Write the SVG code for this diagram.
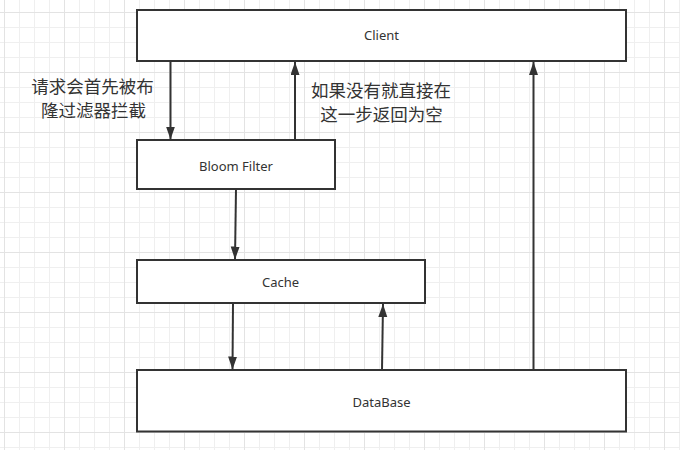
<svg xmlns="http://www.w3.org/2000/svg" width="680" height="450" viewBox="0 0 680 450">
  <defs>
    <pattern id="grid" x="4" y="12" width="60" height="60" patternUnits="userSpaceOnUse">
      <rect x="0" y="0" width="60" height="60" fill="#ffffff"/>
      <rect x="15" y="0" width="1" height="60" fill="#efefef"/>
      <rect x="30" y="0" width="1" height="60" fill="#efefef"/>
      <rect x="45" y="0" width="1" height="60" fill="#efefef"/>
      <rect x="0" y="15" width="60" height="1" fill="#efefef"/>
      <rect x="0" y="30" width="60" height="1" fill="#efefef"/>
      <rect x="0" y="45" width="60" height="1" fill="#efefef"/>
      <rect x="0" y="0" width="1" height="60" fill="#e3e3e3"/>
      <rect x="0" y="0" width="60" height="1" fill="#e3e3e3"/>
    </pattern>
    <marker id="arrow" markerUnits="userSpaceOnUse" markerWidth="14" markerHeight="10" refX="13" refY="4.5" orient="auto">
      <path d="M0,0 L13,4.5 L0,9 z" fill="#333333"/>
    </marker>
    <style>
      .box { fill: #ffffff; stroke: #333333; stroke-width: 2; }
      .lbl { font-family: "Noto Sans", "Open Sans", "Liberation Sans", sans-serif; font-size: 13px; fill: #333333; text-anchor: middle; }
      .cn { font-family: "Noto Sans CJK SC", "Noto Sans", sans-serif; font-size: 17.5px; fill: #333333; text-anchor: middle; }
      .edge { stroke: #333333; stroke-width: 2; fill: none; marker-end: url(#arrow); }
    </style>
  </defs>
  <rect x="0" y="0" width="680" height="450" fill="url(#grid)"/>

  <g id="client">
    <rect class="box" x="137" y="10" width="489" height="51"/>
    <text class="lbl" x="381.5" y="40">Client</text>
  </g>
  <g id="bloom-filter">
    <rect class="box" x="137" y="140" width="198" height="49"/>
    <text class="lbl" x="236" y="171">Bloom Filter</text>
  </g>
  <g id="cache">
    <rect class="box" x="137" y="260" width="288" height="43"/>
    <text class="lbl" x="280.5" y="287">Cache</text>
  </g>
  <g id="database">
    <rect class="box" x="137" y="370" width="489" height="61.5"/>
    <text class="lbl" x="381.5" y="406.5">DataBase</text>
  </g>

  <g id="connectors">
    <line class="edge" x1="170.5" y1="61" x2="170.5" y2="139.5"/>
    <line class="edge" x1="295" y1="140" x2="295" y2="62"/>
    <line class="edge" x1="236" y1="189" x2="235" y2="259.5"/>
    <line class="edge" x1="233" y1="303" x2="232.5" y2="369.5"/>
    <line class="edge" x1="382" y1="370" x2="383" y2="304"/>
    <line class="edge" x1="533.5" y1="370" x2="533.5" y2="62"/>
  </g>

  <g id="labels">
    <text class="cn" x="92.5" y="93">请求会首先被布</text>
    <text class="cn" x="93.5" y="117">隆过滤器拦截</text>
    <text class="cn" x="381" y="97">如果没有就直接在</text>
    <text class="cn" x="381.5" y="121">这一步返回为空</text>
  </g>
</svg>
